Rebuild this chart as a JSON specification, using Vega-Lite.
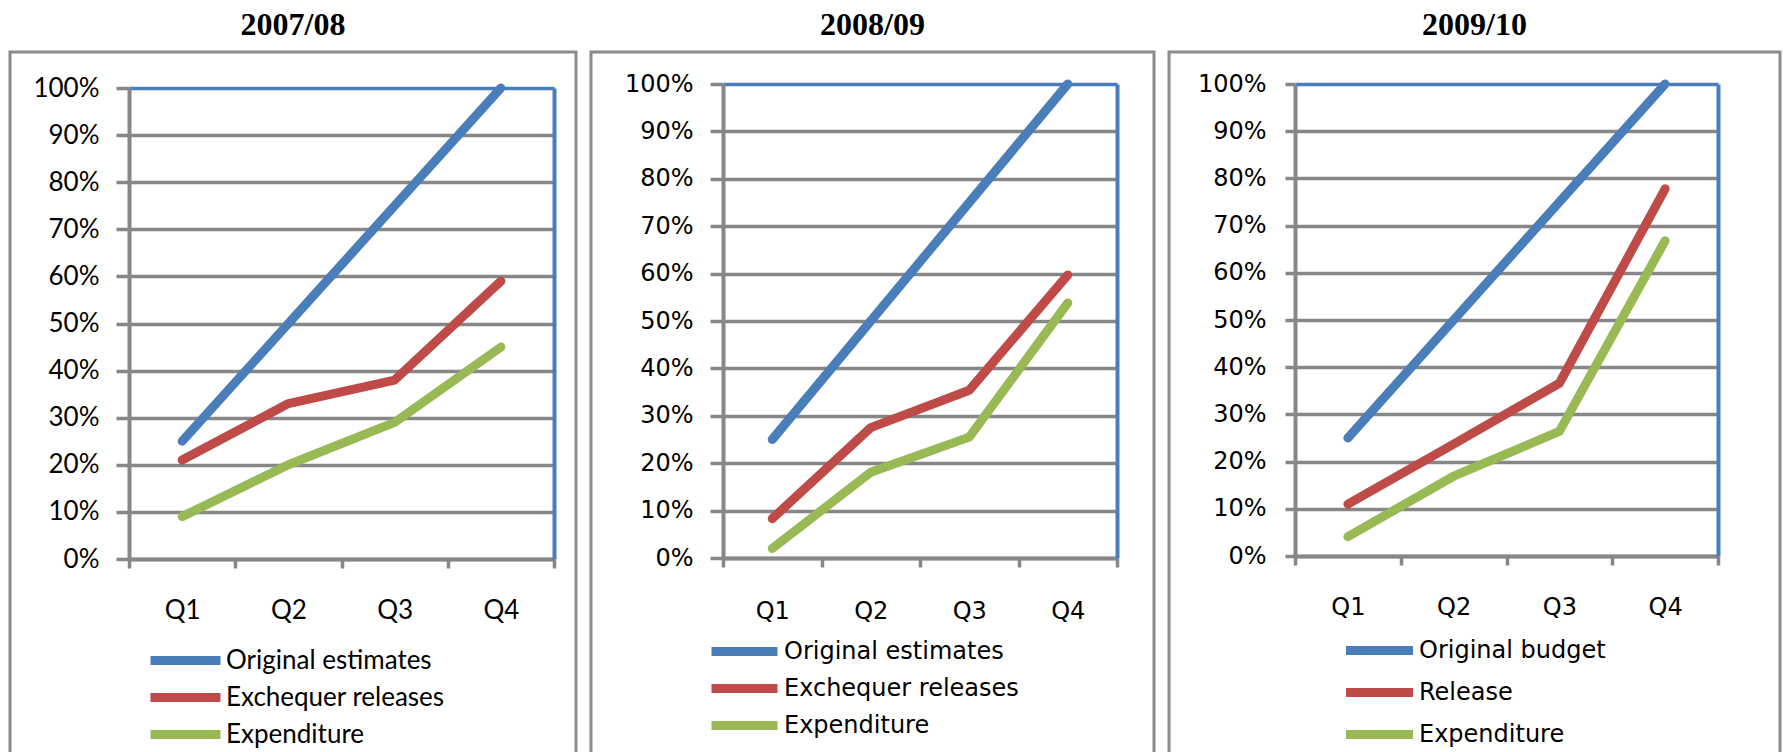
{
  "$schema": "https://vega.github.io/schema/vega-lite/v6.json",
  "padding": {"left": 8, "top": 7, "right": 0, "bottom": 0},
  "background": "white",
  "datasets": {
    "d": [
      {"panel": "2007/08", "quarter": "Q1", "series": "Original estimates", "value": 0.25},
      {"panel": "2007/08", "quarter": "Q2", "series": "Original estimates", "value": 0.50},
      {"panel": "2007/08", "quarter": "Q3", "series": "Original estimates", "value": 0.75},
      {"panel": "2007/08", "quarter": "Q4", "series": "Original estimates", "value": 1.00},
      {"panel": "2007/08", "quarter": "Q1", "series": "Exchequer releases", "value": 0.21},
      {"panel": "2007/08", "quarter": "Q2", "series": "Exchequer releases", "value": 0.33},
      {"panel": "2007/08", "quarter": "Q3", "series": "Exchequer releases", "value": 0.38},
      {"panel": "2007/08", "quarter": "Q4", "series": "Exchequer releases", "value": 0.59},
      {"panel": "2007/08", "quarter": "Q1", "series": "Expenditure", "value": 0.09},
      {"panel": "2007/08", "quarter": "Q2", "series": "Expenditure", "value": 0.20},
      {"panel": "2007/08", "quarter": "Q3", "series": "Expenditure", "value": 0.29},
      {"panel": "2007/08", "quarter": "Q4", "series": "Expenditure", "value": 0.45},
      {"panel": "2008/09", "quarter": "Q1", "series": "Original estimates", "value": 0.25},
      {"panel": "2008/09", "quarter": "Q2", "series": "Original estimates", "value": 0.50},
      {"panel": "2008/09", "quarter": "Q3", "series": "Original estimates", "value": 0.75},
      {"panel": "2008/09", "quarter": "Q4", "series": "Original estimates", "value": 1.00},
      {"panel": "2008/09", "quarter": "Q1", "series": "Exchequer releases", "value": 0.083},
      {"panel": "2008/09", "quarter": "Q2", "series": "Exchequer releases", "value": 0.275},
      {"panel": "2008/09", "quarter": "Q3", "series": "Exchequer releases", "value": 0.354},
      {"panel": "2008/09", "quarter": "Q4", "series": "Exchequer releases", "value": 0.597},
      {"panel": "2008/09", "quarter": "Q1", "series": "Expenditure", "value": 0.02},
      {"panel": "2008/09", "quarter": "Q2", "series": "Expenditure", "value": 0.181},
      {"panel": "2008/09", "quarter": "Q3", "series": "Expenditure", "value": 0.255},
      {"panel": "2008/09", "quarter": "Q4", "series": "Expenditure", "value": 0.538},
      {"panel": "2009/10", "quarter": "Q1", "series": "Original budget", "value": 0.25},
      {"panel": "2009/10", "quarter": "Q2", "series": "Original budget", "value": 0.50},
      {"panel": "2009/10", "quarter": "Q3", "series": "Original budget", "value": 0.75},
      {"panel": "2009/10", "quarter": "Q4", "series": "Original budget", "value": 1.00},
      {"panel": "2009/10", "quarter": "Q1", "series": "Release", "value": 0.11},
      {"panel": "2009/10", "quarter": "Q2", "series": "Release", "value": 0.237},
      {"panel": "2009/10", "quarter": "Q3", "series": "Release", "value": 0.366},
      {"panel": "2009/10", "quarter": "Q4", "series": "Release", "value": 0.778},
      {"panel": "2009/10", "quarter": "Q1", "series": "Expenditure", "value": 0.041},
      {"panel": "2009/10", "quarter": "Q2", "series": "Expenditure", "value": 0.169},
      {"panel": "2009/10", "quarter": "Q3", "series": "Expenditure", "value": 0.264},
      {"panel": "2009/10", "quarter": "Q4", "series": "Expenditure", "value": 0.668}
    ]
  },
  "hconcat": [
    {
      "width": 566, "height": 703,
      "data": {"name": "d"},
      "transform": [{"filter": "datum.panel === '2007/08'"}],
      "title": {"text": "2007/08", "font": "Liberation Serif", "fontSize": 32, "fontWeight": "bold", "color": "black", "anchor": "middle", "baseline": "alphabetic", "offset": -15},
      "layer": [
        {
          "mark": {"type": "line", "strokeWidth": 9, "strokeCap": "round", "strokeJoin": "round"},
          "encoding": {
            "x": {"field": "quarter", "type": "ordinal", "bandPosition": 0.5,
              "scale": {"type": "band", "range": [119, 544], "paddingInner": 0, "paddingOuter": 0},
              "axis": {"orient": "bottom", "offset": -196, "tickBand": "extent", "grid": false, "title": null, "labelAngle": 0,
                "domainColor": "#878787", "domainWidth": 4, "tickColor": "#878787", "tickWidth": 3.5, "tickSize": 9,
                "labelPadding": 29, "labelFont": "Lato", "labelFontSize": 26, "labelColor": "black"}},
            "y": {"field": "value", "type": "quantitative",
              "scale": {"domain": [0, 1], "range": [507, 36], "nice": false},
              "axis": {"orient": "left", "offset": -119, "tickCount": 10, "format": "%", "grid": true, "title": null,
                "gridColor": {"condition": {"test": "datum.value > 0.999", "value": "#4A7EBB"}, "value": "#878787"},
                "gridWidth": 3.5, "domainColor": "#878787", "domainWidth": 4, "tickColor": "#878787", "tickWidth": 3.5, "tickSize": 13,
                "labelPadding": 17, "labelFont": "Lato", "labelFontSize": 26, "labelColor": "black"}},
            "color": {"field": "series", "type": "nominal",
              "scale": {"domain": ["Original estimates", "Exchequer releases", "Expenditure"], "range": ["#4A7EBB", "#BE4B48", "#98B954"]},
              "legend": {"orient": "none", "legendX": 161, "legendY": 594, "direction": "vertical", "title": null,
                "symbolType": "M-3.5,0H3.5", "symbolStrokeWidth": 9, "symbolSize": 400, "labelFont": "Lato", "labelFontSize": 26,
                "labelColor": "black", "labelLimit": 0, "rowPadding": 0, "labelOffset": 26}}
          }
        },
        {
          "mark": {"type": "point", "opacity": 0},
          "encoding": {
            "x": {"field": "quarter", "type": "ordinal", "bandPosition": 0.5,
              "scale": {"type": "band", "range": [119, 544], "paddingInner": 0, "paddingOuter": 0}},
            "y": {"field": "value", "type": "quantitative",
              "scale": {"domain": [0, 1], "range": [507, 36], "nice": false},
              "axis": {"orient": "right", "offset": -22, "grid": false, "ticks": false, "labels": false, "title": null,
                "domainColor": "#4A7EBB", "domainWidth": 4}}
          }
        }
      ],
      "resolve": {"axis": {"y": "independent"}}
    },
    {
      "width": 563, "height": 703,
      "data": {"name": "d"},
      "transform": [{"filter": "datum.panel === '2008/09'"}],
      "title": {"text": "2008/09", "font": "Liberation Serif", "fontSize": 32, "fontWeight": "bold", "color": "black", "anchor": "middle", "baseline": "alphabetic", "offset": -15},
      "layer": [
        {
          "mark": {"type": "line", "strokeWidth": 9, "strokeCap": "round", "strokeJoin": "round"},
          "encoding": {
            "x": {"field": "quarter", "type": "ordinal", "bandPosition": 0.5,
              "scale": {"type": "band", "range": [132, 526], "paddingInner": 0, "paddingOuter": 0},
              "axis": {"orient": "bottom", "offset": -197, "tickBand": "extent", "grid": false, "title": null, "labelAngle": 0,
                "domainColor": "#878787", "domainWidth": 4, "tickColor": "#878787", "tickWidth": 3.5, "tickSize": 9,
                "labelPadding": 32, "labelFont": "DejaVu Sans", "labelFontSize": 24, "labelColor": "black"}},
            "y": {"field": "value", "type": "quantitative",
              "scale": {"domain": [0, 1], "range": [506, 32], "nice": false},
              "axis": {"orient": "left", "offset": -132, "tickCount": 10, "format": "%", "grid": true, "title": null,
                "gridColor": {"condition": {"test": "datum.value > 0.999", "value": "#4A7EBB"}, "value": "#878787"},
                "gridWidth": 3.5, "domainColor": "#878787", "domainWidth": 4, "tickColor": "#878787", "tickWidth": 3.5, "tickSize": 13,
                "labelPadding": 17, "labelFont": "DejaVu Sans", "labelFontSize": 24, "labelColor": "black"}},
            "color": {"field": "series", "type": "nominal",
              "scale": {"domain": ["Original estimates", "Exchequer releases", "Expenditure"], "range": ["#4A7EBB", "#BE4B48", "#98B954"]},
              "legend": {"orient": "none", "legendX": 139, "legendY": 585, "direction": "vertical", "title": null,
                "symbolType": "M-3.3,0H3.3", "symbolStrokeWidth": 9, "symbolSize": 400, "labelFont": "DejaVu Sans", "labelFontSize": 24,
                "labelColor": "black", "labelLimit": 0, "rowPadding": 0, "labelOffset": 25}}
          }
        },
        {
          "mark": {"type": "point", "opacity": 0},
          "encoding": {
            "x": {"field": "quarter", "type": "ordinal", "bandPosition": 0.5,
              "scale": {"type": "band", "range": [132, 526], "paddingInner": 0, "paddingOuter": 0}},
            "y": {"field": "value", "type": "quantitative",
              "scale": {"domain": [0, 1], "range": [506, 32], "nice": false},
              "axis": {"orient": "right", "offset": -37, "grid": false, "ticks": false, "labels": false, "title": null,
                "domainColor": "#4A7EBB", "domainWidth": 4}}
          }
        }
      ],
      "resolve": {"axis": {"y": "independent"}}
    },
    {
      "width": 611, "height": 703,
      "data": {"name": "d"},
      "transform": [{"filter": "datum.panel === '2009/10'"}],
      "title": {"text": "2009/10", "font": "Liberation Serif", "fontSize": 32, "fontWeight": "bold", "color": "black", "anchor": "middle", "baseline": "alphabetic", "offset": -15},
      "layer": [
        {
          "mark": {"type": "line", "strokeWidth": 9, "strokeCap": "round", "strokeJoin": "round"},
          "encoding": {
            "x": {"field": "quarter", "type": "ordinal", "bandPosition": 0.5,
              "scale": {"type": "band", "range": [126, 549], "paddingInner": 0, "paddingOuter": 0},
              "axis": {"orient": "bottom", "offset": -199, "tickBand": "extent", "grid": false, "title": null, "labelAngle": 0,
                "domainColor": "#878787", "domainWidth": 4, "tickColor": "#878787", "tickWidth": 3.5, "tickSize": 9,
                "labelPadding": 30, "labelFont": "DejaVu Sans", "labelFontSize": 24, "labelColor": "black"}},
            "y": {"field": "value", "type": "quantitative",
              "scale": {"domain": [0, 1], "range": [504, 32], "nice": false},
              "axis": {"orient": "left", "offset": -126, "tickCount": 10, "format": "%", "grid": true, "title": null,
                "gridColor": {"condition": {"test": "datum.value > 0.999", "value": "#4A7EBB"}, "value": "#878787"},
                "gridWidth": 3.5, "domainColor": "#878787", "domainWidth": 4, "tickColor": "#878787", "tickWidth": 3.5, "tickSize": 10,
                "labelPadding": 19, "labelFont": "DejaVu Sans", "labelFontSize": 24, "labelColor": "black"}},
            "color": {"field": "series", "type": "nominal",
              "scale": {"domain": ["Original budget", "Release", "Expenditure"], "range": ["#4A7EBB", "#BE4B48", "#98B954"]},
              "legend": {"orient": "none", "legendX": 196, "legendY": 584, "direction": "vertical", "title": null,
                "symbolType": "M-3.35,0H3.35", "symbolStrokeWidth": 9, "symbolSize": 400, "labelFont": "DejaVu Sans", "labelFontSize": 24,
                "labelColor": "black", "labelLimit": 0, "rowPadding": 5, "labelOffset": 25}}
          }
        },
        {
          "mark": {"type": "point", "opacity": 0},
          "encoding": {
            "x": {"field": "quarter", "type": "ordinal", "bandPosition": 0.5,
              "scale": {"type": "band", "range": [126, 549], "paddingInner": 0, "paddingOuter": 0}},
            "y": {"field": "value", "type": "quantitative",
              "scale": {"domain": [0, 1], "range": [504, 32], "nice": false},
              "axis": {"orient": "right", "offset": -62, "grid": false, "ticks": false, "labels": false, "title": null,
                "domainColor": "#4A7EBB", "domainWidth": 4}}
          }
        }
      ],
      "resolve": {"axis": {"y": "independent"}}
    }
  ],
  "spacing": 11,
  "resolve": {
    "scale": {"x": "independent", "y": "independent", "color": "independent"},
    "legend": {"color": "independent"},
    "axis": {"x": "independent", "y": "independent"}
  },
  "config": {
    "view": {"stroke": "#8a8a8a", "strokeWidth": 3},
    "axis": {"labelFontWeight": "normal"}
  }
}
